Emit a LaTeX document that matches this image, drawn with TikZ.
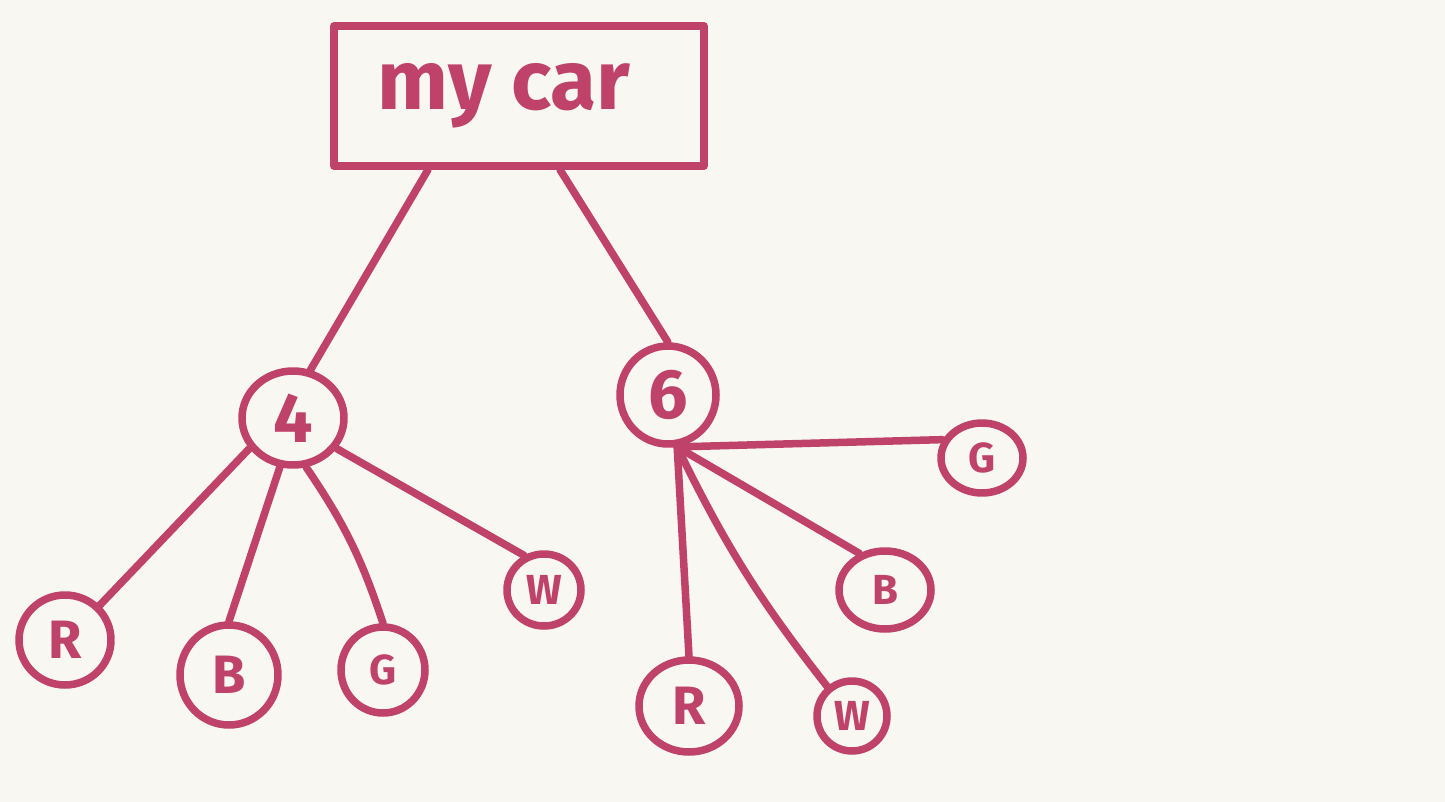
\documentclass[tikz,border=0pt]{standalone}
\usepackage{fontspec}
\setmainfont{Fira Sans}
\usetikzlibrary{shapes.geometric}
\definecolor{ink}{RGB}{191,66,106}
\definecolor{paper}{RGB}{248,247,242}
\begin{document}
\begin{tikzpicture}[x=1pt,y=-1pt, line cap=round, line join=round,
  inkline/.style={draw=ink, line width=7.5pt},
  leaf/.style={inkline, ellipse, inner sep=0pt, text=ink},
  bigtxt/.style={font=\fontsize{70}{70}\selectfont\bfseries},
  midtxt/.style={font=\fontsize{54}{54}\selectfont\bfseries},
  smalltxt/.style={font=\fontsize{42}{42}\selectfont\bfseries}]
\fill[paper] (0,0) rectangle (1445,802);
\useasboundingbox (0,0) rectangle (1445,802);
\node[inkline, rectangle, minimum width=370pt, minimum height=140pt, text=ink,
      font=\fontsize{84}{84}\selectfont\bfseries] (car) at (519,96) {\hspace*{-30pt}my car};
\node[leaf, bigtxt, minimum width=102pt, minimum height=94pt] (four) at (293,418) {4};
\node[leaf, bigtxt, minimum width=96pt, minimum height=98pt] (six) at (668,395) {6};
\node[leaf, midtxt, minimum width=92pt, minimum height=90pt] (rl) at (65,640) {R};
\node[leaf, midtxt, minimum width=98pt, minimum height=100pt] (bl) at (229,675) {B};
\node[leaf, smalltxt, minimum width=84pt, minimum height=86pt] (gl) at (383,670) {G};
\node[leaf, smalltxt, minimum width=74pt, minimum height=72pt] (wl) at (544,590) {W};
\node[leaf, smalltxt, minimum width=82pt, minimum height=70pt] (gr) at (982,458) {G};
\node[leaf, smalltxt, minimum width=92pt, minimum height=78pt] (br) at (885,590) {B};
\node[leaf, midtxt, minimum width=100pt, minimum height=92pt] (rr) at (689,706) {R};
\node[leaf, smalltxt, minimum width=70pt, minimum height=70pt] (wr) at (852,716) {W};
\draw[inkline] ([xshift=-91pt]car.south) -- (four.70);
\draw[inkline] ([xshift=41pt]car.south) -- (six.north);
\draw[inkline] (four.215) -- (rl.45);
\draw[inkline] (four.255) -- (bl.north);
\draw[inkline] (four.285) to[bend left=8] (gl.north);
\draw[inkline] (four.-35) -- (wl.120);
\draw[inkline] (six.-80) -- (gr.155);
\draw[inkline] (six.-80) -- (br.125);
\draw[inkline] (six.-80) -- (rr.north);
\draw[inkline] (six.-80) to[bend right=6] (wr.130);
\end{tikzpicture}
\end{document}
